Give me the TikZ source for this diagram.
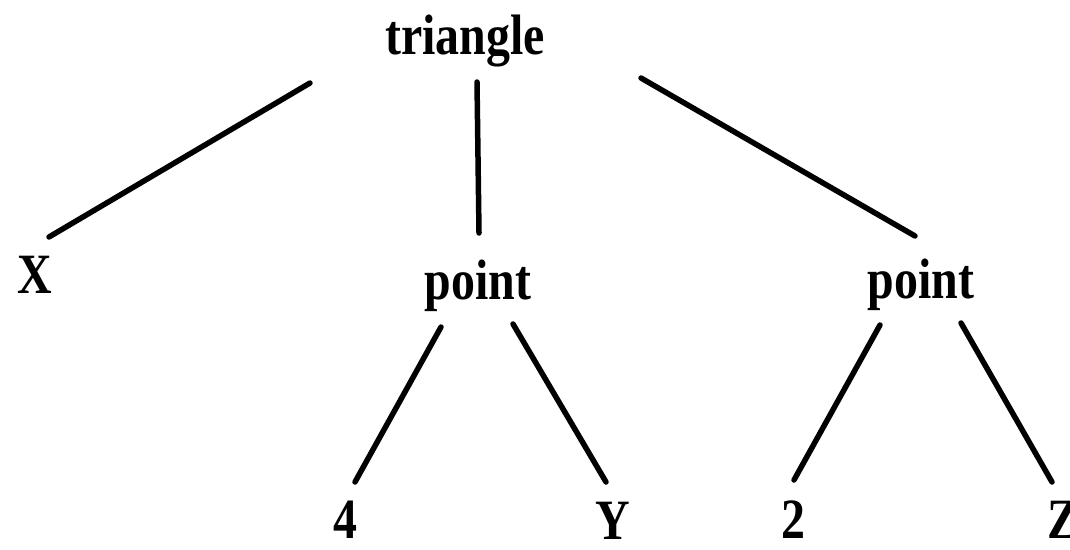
\documentclass[tikz,border=0pt]{standalone}
\usepackage{fontspec}
\setmainfont{Liberation Serif}
\newfontfamily\treefont[FakeStretch=0.84]{Liberation Serif}
\begin{document}
\begin{tikzpicture}[x=1pt,y=-1pt,
  lbl/.style={anchor=base,inner sep=0pt,font=\treefont\bfseries\fontsize{57}{57}\selectfont},
  edge/.style={line width=5.5pt,line cap=round}]
\useasboundingbox (0,0) rectangle (1070,549);
\fill[white] (0,0) rectangle (1070,549);
\node[lbl] (t) at (465,54) {triangle};
\node[lbl] (x) at (35,293) {X};
\node[lbl] (pl) at (478,299) {point};
\node[lbl] (pr) at (921,298) {point};
\node[lbl] (n4) at (345,538) {4};
\node[lbl] (y) at (613,539) {Y};
\node[lbl] (n2) at (793,538) {2};
\node[lbl] (z) at (1063,538) {Z};
\draw[edge] ([shift={(-155,29)}]t.base) -- ([shift={(14,-56)}]x.base);
\draw[edge] ([shift={(12,28)}]t.base) -- ([shift={(1,-66)}]pl.base);
\draw[edge] ([shift={(176,24)}]t.base) -- ([shift={(-6,-62)}]pr.base);
\draw[edge] ([shift={(-37,28)}]pl.base) -- ([shift={(10,-56)}]n4.base);
\draw[edge] ([shift={(35,25)}]pl.base) -- ([shift={(-7,-57)}]y.base);
\draw[edge] ([shift={(-41,27)}]pr.base) -- ([shift={(1,-58)}]n2.base);
\draw[edge] ([shift={(40,25)}]pr.base) -- ([shift={(-11,-56)}]z.base);
\end{tikzpicture}
\end{document}
